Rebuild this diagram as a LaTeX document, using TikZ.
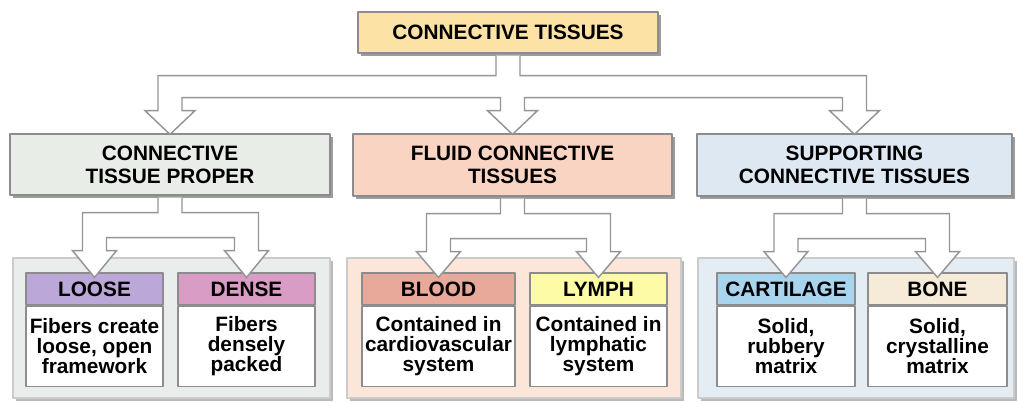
\documentclass[tikz,border=0pt]{standalone}
\usepackage{fontspec}
\setmainfont{Liberation Sans}
\usepackage{tikz}
\usetikzlibrary{positioning,calc,shadows}
\definecolor{linegray}{HTML}{8C8C8C}
\definecolor{shadowgray}{HTML}{9C9C9C}
\definecolor{arrowgray}{HTML}{959595}
\definecolor{topfill}{HTML}{FCE2A4}
\definecolor{ctpfill}{HTML}{E8EDE7}
\definecolor{fluidfill}{HTML}{F9D4C2}
\definecolor{suppfill}{HTML}{DDE8F2}
\definecolor{ctppanel}{HTML}{E9EEED}
\definecolor{fluidpanel}{HTML}{FCE6DA}
\definecolor{supppanel}{HTML}{E4ECF4}
\definecolor{loosefill}{HTML}{BBA8D8}
\definecolor{densefill}{HTML}{D89CC5}
\definecolor{bloodfill}{HTML}{E9A99A}
\definecolor{lymphfill}{HTML}{FDFBA6}
\definecolor{cartfill}{HTML}{A9D4EE}
\definecolor{bonefill}{HTML}{F6EBD8}
\tikzset{
  every picture/.style={line join=round, x=0.75pt, y=-0.75pt},
  txt/.style={font=\bfseries\fontsize{15.6}{17.3}\selectfont, align=center, inner sep=0pt},
  box/.style={txt, draw=linegray, line width=0.9pt,
    drop shadow={shadow xshift=2.5pt, shadow yshift=-2.5pt, fill=shadowgray, opacity=1}},
  panel/.style={draw=linegray!45, line width=0.8pt,
    drop shadow={shadow xshift=2pt, shadow yshift=-2pt, fill=shadowgray!70, opacity=1}},
  leafhead/.style={txt, draw=linegray, line width=0.8pt, minimum height=24pt},
  leafbody/.style={txt, draw=linegray, line width=0.8pt, fill=white, minimum height=60pt,
    font=\bfseries\fontsize{15.6}{15.2}\selectfont},
  hollow/.style={draw=arrowgray, fill=white, line width=1.1pt, line join=miter},
}

\begin{document}
\begin{tikzpicture}
\useasboundingbox (0,0) rectangle (1018,401);
% level 1 and 2
\node[box, fill=topfill, minimum width=225pt, minimum height=30.75pt] (top) at (508,32.5) {CONNECTIVE TISSUES};
\node[box, fill=ctpfill, minimum width=240pt, minimum height=45.75pt] (ctp) at (170,164.5) {CONNECTIVE\\TISSUE PROPER};
\node[box, fill=fluidfill, minimum width=239.25pt, minimum height=46.5pt] (fluid) at (512.5,165) {FLUID CONNECTIVE\\TISSUES};
\node[box, fill=suppfill, minimum width=236.25pt, minimum height=46.5pt] (supp) at (854.5,165) {SUPPORTING\\CONNECTIVE TISSUES};
% panels
\node[panel, fill=ctppanel, minimum width=237.75pt, minimum height=105pt] (ctpbg) at (171.5,328) {};
\node[panel, fill=fluidpanel, minimum width=250.5pt, minimum height=105pt] (fluidbg) at (514,328) {};
\node[panel, fill=supppanel, minimum width=237pt, minimum height=105pt] (suppbg) at (856,328) {};
% leaves
\node[leafhead, fill=loosefill, minimum width=102.75pt] (loose) at (94.5,289) {LOOSE};
\node[leafbody, minimum width=102.75pt, below=0pt of loose] (loosetxt) {Fibers create\\loose, open\\framework};
\node[leafhead, fill=densefill, minimum width=102.75pt] (dense) at (246.5,289) {DENSE};
\node[leafbody, minimum width=102.75pt, below=0pt of dense] (densetxt) {Fibers\\densely\\packed};
\node[leafhead, fill=bloodfill, minimum width=114.75pt] (blood) at (438.5,289) {BLOOD};
\node[leafbody, minimum width=114.75pt, below=0pt of blood] (bloodtxt) {Contained in\\cardiovascular\\system};
\node[leafhead, fill=lymphfill, minimum width=102.75pt] (lymph) at (598.5,289) {LYMPH};
\node[leafbody, minimum width=102.75pt, below=0pt of lymph] (lymphtxt) {Contained in\\lymphatic\\system};
\node[leafhead, fill=cartfill, minimum width=103.5pt] (cart) at (786,289) {CARTILAGE};
\node[leafbody, minimum width=103.5pt, below=0pt of cart] (carttxt) {Solid,\\rubbery\\matrix};
\node[leafhead, fill=bonefill, minimum width=104.25pt] (bone) at (937.5,289) {BONE};
\node[leafbody, minimum width=104.25pt, below=0pt of bone] (bonetxt) {Solid,\\crystalline\\matrix};
% hollow arrows, top
\coordinate (t1) at ($(top.south)+(0,22)$);
\coordinate (t2) at ($(top.south)+(0,44)$);
\coordinate (t3) at ($(top.south)+(0,57)$);
\draw[hollow] ($(top.south)+(-12,2)$) -- ($(top.south)+(-12,22)$)
  -- ($(ctp.north|-t1)+(-12,0)$) -- ($(ctp.north|-t3)+(-12,0)$) -- ($(ctp.north|-t3)+(-25,0)$)
  -- ($(ctp.north)+(0,1)$) -- ($(ctp.north|-t3)+(25,0)$) -- ($(ctp.north|-t3)+(12,0)$) -- ($(ctp.north|-t2)+(12,0)$)
  -- ($(fluid.north|-t2)+(-12,0)$) -- ($(fluid.north|-t3)+(-12,0)$) -- ($(fluid.north|-t3)+(-25,0)$)
  -- ($(fluid.north)+(0,1)$) -- ($(fluid.north|-t3)+(25,0)$) -- ($(fluid.north|-t3)+(12,0)$) -- ($(fluid.north|-t2)+(12,0)$)
  -- ($(supp.north|-t2)+(-12,0)$) -- ($(supp.north|-t3)+(-12,0)$) -- ($(supp.north|-t3)+(-25,0)$)
  -- ($(supp.north)+(0,1)$) -- ($(supp.north|-t3)+(25,0)$) -- ($(supp.north|-t3)+(12,0)$) -- ($(supp.north|-t1)+(12,0)$)
  -- ($(top.south)+(12,22)$) -- ($(top.south)+(12,2)$);
% hollow arrows, second level
\foreach \p/\l/\r in {ctp/loose/dense, fluid/blood/lymph, supp/cart/bone} {
  \coordinate (c1) at ($(\p.south)+(0,17)$);
  \coordinate (c2) at ($(\p.south)+(0,42)$);
  \coordinate (c3) at ($(\p.south)+(0,55)$);
  \draw[hollow] ($(\p.south)+(-12,2)$) -- ($(\p.south)+(-12,17)$)
    -- ($(\l.north|-c1)+(-12,0)$) -- ($(\l.north|-c3)+(-12,0)$) -- ($(\l.north|-c3)+(-22,0)$)
    -- ($(\l.north)+(0,5)$) -- ($(\l.north|-c3)+(22,0)$) -- ($(\l.north|-c3)+(12,0)$) -- ($(\l.north|-c2)+(12,0)$)
    -- ($(\r.north|-c2)+(-12,0)$) -- ($(\r.north|-c3)+(-12,0)$) -- ($(\r.north|-c3)+(-22,0)$)
    -- ($(\r.north)+(0,5)$) -- ($(\r.north|-c3)+(22,0)$) -- ($(\r.north|-c3)+(12,0)$) -- ($(\r.north|-c1)+(12,0)$)
    -- ($(\p.south)+(12,17)$) -- ($(\p.south)+(12,2)$);
}
\end{tikzpicture}
\end{document}
